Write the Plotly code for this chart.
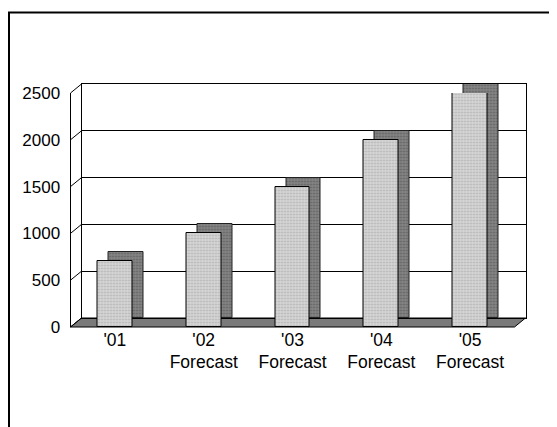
import plotly.graph_objects as go

# ---- data ----
categories = ["'01", "'02", "'03", "'04", "'05"]
tick_labels = ["'01", "'02<br>Forecast", "'03<br>Forecast", "'04<br>Forecast", "'05<br>Forecast"]
values = [700, 1000, 1500, 2000, 2500]
y_ticks = [0, 500, 1000, 1500, 2000, 2500]
y_max = 2500

# ---- geometry (page pixel -> paper); page body has an 8px margin ----
W, H = 557, 427
OFF = 8
def px_x(p):
    return (p - OFF) / W
def px_y(p):
    return 1 - (p - OFF) / H

front_x = [px_x(70.5), px_x(514.5)]
back_x = [px_x(81.5), px_x(525.5)]
front_y = [px_y(327), px_y(93)]
back_y = [px_y(318), px_y(84)]

def fy(v):
    return front_y[0] + v / y_max * (front_y[1] - front_y[0])
def by(v):
    return back_y[0] + v / y_max * (back_y[1] - back_y[0])

family = "Liberation Sans, Arial, sans-serif"
font_y = dict(family=family, size=17, color="black")
font_x = dict(family=family, size=17.5, color="black")
bar_w = 0.39

fig = go.Figure()

# back (depth) faces of bars
fig.add_trace(go.Bar(
    x=list(range(len(categories))), y=values, xaxis="x", yaxis="y",
    width=bar_w,
    marker=dict(color="#7c7c7c",
                line=dict(color="#222", width=1),
                pattern=dict(shape=".", fgcolor="#3c3c3c", bgcolor="#858585", size=3, solidity=0.3)),
    hoverinfo="skip", showlegend=False,
))
# front faces
fig.add_trace(go.Bar(
    x=list(range(len(categories))), y=values, xaxis="x2", yaxis="y2",
    width=bar_w,
    marker=dict(color="#cfcfcf",
                line=dict(color="black", width=1),
                pattern=dict(shape=".", fgcolor="#8e8e8e", bgcolor="#d6d6d6", size=3, solidity=0.3)),
    hovertext=categories, hoverinfo="text+y", showlegend=False,
))

shapes = []
# floor
shapes.append(dict(
    type="path", xref="paper", yref="paper", layer="below",
    path=(f"M {front_x[0]} {fy(0)} L {front_x[1]} {fy(0)} "
          f"L {back_x[1]} {by(0)} L {back_x[0]} {by(0)} Z"),
    fillcolor="#7a7a7a", line=dict(color="black", width=1),
))
# left wall connectors
for v in y_ticks:
    shapes.append(dict(
        type="line", xref="paper", yref="paper", layer="above",
        x0=front_x[0], y0=fy(v), x1=back_x[0], y1=by(v),
        line=dict(color="black", width=1),
    ))
# page border
shapes.append(dict(
    type="rect", xref="paper", yref="paper", layer="above",
    x0=px_x(9), x1=px_x(552), y0=px_y(450), y1=px_y(12.5),
    line=dict(color="black", width=2), fillcolor="rgba(0,0,0,0)",
))

fig.update_layout(
    width=W, height=H,
    margin=dict(l=0, r=0, t=0, b=0, autoexpand=False),
    paper_bgcolor="white", plot_bgcolor="rgba(0,0,0,0)",
    font=font_y,
    bargap=0,
    shapes=shapes,
    xaxis=dict(domain=back_x, anchor="y", range=[-0.5, 4.5], automargin=False,
               showticklabels=False, showgrid=False, zeroline=False,
               showline=True, mirror=True, linecolor="black", linewidth=1,
               layer="below traces", fixedrange=True),
    yaxis=dict(domain=back_y, anchor="x", range=[0, y_max], automargin=False,
               tickvals=y_ticks, showticklabels=False,
               showgrid=True, gridcolor="black", gridwidth=1, zeroline=False,
               showline=True, mirror=True, linecolor="black", linewidth=1,
               layer="below traces", fixedrange=True),
    xaxis2=dict(domain=front_x, anchor="y2", range=[-0.5, 4.5], automargin=False,
                tickvals=list(range(len(categories))), ticktext=tick_labels,
                showgrid=False, zeroline=False, showline=False, ticks="",
                tickfont=font_x, fixedrange=True),
    yaxis2=dict(domain=front_y, anchor="x2", range=[0, y_max], automargin=False,
                tickvals=y_ticks, showgrid=False, zeroline=False,
                showline=True, linecolor="black", linewidth=1, ticks="",
                ticklabelstandoff=6, tickfont=font_y, fixedrange=True),
)

fig.write_html("out.html")
